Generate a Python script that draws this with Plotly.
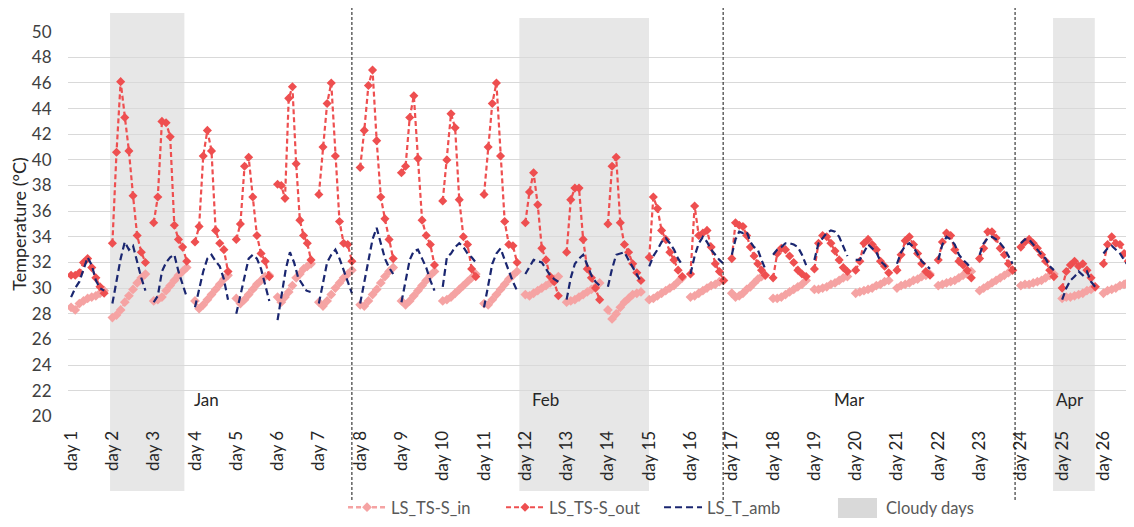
import plotly.graph_objects as go

days = [f"day {i}" for i in range(1, 27)]

t_in = [
    [28.5, 28.3, 28.8, 29.0, 29.2, 29.3, 29.4, 29.6, 29.8],
    [27.7, 27.9, 28.3, 28.9, 29.4, 29.9, 30.4, 30.8, 31.1],
    [29.0, 29.1, 29.3, 29.8, 30.2, 30.6, 31.0, 31.3, 31.6],
    [29.0, 28.4, 28.7, 29.1, 29.5, 29.9, 30.3, 30.7, 31.0],
    [29.2, 28.8, 29.1, 29.5, 29.9, 30.3, 30.6, 30.9, 31.0],
    [29.3, 28.9, 29.3, 29.7, 30.2, 30.8, 31.1, 31.5, 31.7, 31.9],
    [28.9, 28.6, 29.0, 29.5, 30.0, 30.4, 30.8, 31.1, 31.4],
    [28.7, 28.6, 29.0, 29.5, 29.9, 30.4, 30.9, 31.3, 31.6],
    [29.0, 28.7, 29.0, 29.4, 29.8, 30.2, 30.6, 31.0, 31.3],
    [29.0, 29.1, 29.3, 29.6, 29.9, 30.2, 30.5, 30.8, 31.1],
    [28.8, 28.7, 29.1, 29.5, 29.9, 30.3, 30.7, 31.0, 31.3],
    [29.5, 29.4, 29.6, 29.8, 30.0, 30.2, 30.4, 30.7, 30.9],
    [28.9, 29.0, 29.1, 29.3, 29.5, 29.7, 29.9, 30.1, 30.4],
    [28.3, 27.6, 28.0, 28.5, 28.9, 29.2, 29.5, 29.6, 29.7],
    [29.1, 29.2, 29.4, 29.6, 29.8, 30.0, 30.2, 30.5, 30.8],
    [29.3, 29.4, 29.6, 29.8, 30.0, 30.2, 30.3, 30.5, 30.6],
    [29.6, 29.3, 29.4, 29.6, 29.9, 30.1, 30.4, 30.7, 30.9, 31.0],
    [29.2, 29.2, 29.3, 29.5, 29.7, 29.9, 30.1, 30.3, 30.6],
    [29.9, 29.9, 30.0, 30.1, 30.3, 30.4, 30.6, 30.8, 30.9],
    [29.6, 29.7, 29.8, 29.9, 30.0, 30.2, 30.3, 30.5, 30.6],
    [30.0, 30.2, 30.3, 30.4, 30.6, 30.7, 30.9, 31.0, 31.1],
    [30.2, 30.3, 30.4, 30.5, 30.6, 30.8, 31.0, 31.1, 31.3],
    [29.8, 30.0, 30.2, 30.4, 30.6, 30.8, 31.0, 31.2, 31.4],
    [30.2, 30.3, 30.3, 30.4, 30.5, 30.6, 30.8, 31.0, 31.1],
    [29.2, 29.3, 29.3, 29.4, 29.5, 29.6, 29.8, 29.9, 30.1],
    [29.6, 29.8, 29.9, 30.0, 30.2, 30.3, 30.5, 30.6],
]

t_out = [
    [31.0, 31.0, 31.2, 32.0, 32.3, 31.6, 30.8, 30.1, 29.6],
    [33.5, 40.6, 46.1, 43.3, 40.7, 37.2, 34.1, 32.8, 32.0],
    [35.1, 37.1, 43.0, 42.9, 41.8, 34.9, 33.8, 33.2, 32.1],
    [33.6, 34.8, 40.3, 42.3, 40.7, 34.5, 33.5, 33.0, 31.3],
    [33.8, 35.0, 39.5, 40.2, 37.1, 34.1, 32.7, 32.1, 30.9],
    [38.1, 38.0, 37.0, 44.8, 45.7, 39.7, 35.3, 34.1, 33.5, 32.2],
    [37.3, 41.0, 44.4, 46.0, 40.3, 35.2, 33.5, 33.4, 32.1],
    [39.4, 42.3, 45.8, 47.0, 41.5, 37.1, 35.4, 33.8, 32.3],
    [39.0, 39.5, 43.3, 45.0, 40.1, 35.3, 34.1, 33.4, 31.8],
    [36.8, 40.0, 43.6, 42.5, 36.9, 34.0, 33.4, 31.5, 30.9],
    [37.3, 41.0, 44.4, 46.0, 40.3, 35.2, 33.4, 33.3, 32.0],
    [35.1, 37.5, 39.0, 36.5, 33.1, 32.2, 30.9, 30.5, 29.4],
    [32.8, 36.9, 37.8, 37.8, 33.8, 31.5, 30.8, 30.0, 29.1],
    [35.0, 39.5, 40.2, 35.1, 33.4, 32.8, 31.9, 31.2, 30.6],
    [32.4, 37.1, 36.2, 34.5, 33.8, 32.8, 32.2, 31.4, 30.9],
    [31.1, 36.4, 34.1, 34.3, 34.5, 33.2, 31.9, 31.3, 30.6],
    [32.3, 35.1, 34.9, 34.8, 34.1, 33.2, 32.5, 31.9, 31.4, 31.0],
    [30.8, 32.7, 33.1, 33.0, 32.5, 32.0, 31.4, 31.1, 30.9],
    [31.5, 33.5, 34.1, 34.0, 33.5, 32.9, 32.2, 31.6, 31.3],
    [31.4, 32.1, 33.5, 33.8, 33.4, 33.0, 32.1, 31.7, 31.2],
    [31.4, 32.6, 33.7, 34.0, 33.4, 32.7, 31.9, 31.3, 31.0],
    [32.2, 33.6, 34.3, 34.1, 33.0, 32.1, 31.8, 31.4, 30.8],
    [32.3, 33.1, 34.4, 34.4, 33.9, 33.1, 32.6, 31.9, 31.4],
    [33.2, 33.6, 33.8, 33.5, 33.1, 32.6, 32.1, 31.4, 30.9],
    [30.0, 31.3, 31.8, 32.1, 31.7, 31.9, 31.4, 30.8, 30.1],
    [31.9, 33.4, 34.0, 33.5, 33.4, 32.7, 32.1, 31.5],
]

t_amb = [
    [29.3, 30.0, 30.5, 31.5, 32.4, 31.8, 30.6, 30.0, 29.8],
    [28.8, 30.5, 32.3, 33.6, 33.0, 33.3, 32.0, 30.8, 29.8],
    [28.9, 29.4, 31.3, 32.0, 32.4, 32.6, 31.3, 30.3, 29.3],
    [28.5, 30.0, 31.3, 32.3, 32.6, 32.1, 31.7, 30.7, 29.1],
    [28.0, 29.5, 31.0, 32.3, 32.6, 32.3, 31.5, 30.3, 29.0],
    [27.5, 29.5, 31.5, 32.8, 32.0, 30.8, 30.3, 29.8, 29.7],
    [28.8, 30.5, 32.0, 32.6, 33.0, 32.3, 31.4, 30.5, 29.6],
    [28.8, 30.5, 32.4, 33.8, 34.7, 33.5, 32.3, 31.6, 31.1],
    [28.9, 30.5, 32.2, 32.9, 33.0, 32.3, 31.6, 30.6, 29.8],
    [30.1, 32.4, 32.7, 33.2, 33.5, 33.2, 32.7, 32.4, 32.0],
    [28.5, 30.3, 31.9, 32.7, 33.1, 32.2, 31.3, 30.5, 29.8],
    [31.1, 31.7, 32.2, 32.1, 32.0, 31.5, 31.0, 30.7, 30.5],
    [29.1, 30.8, 31.9, 32.3, 32.6, 31.8, 31.0, 30.5, 30.2],
    [30.1, 31.5, 32.6, 32.7, 32.8, 32.2, 31.6, 31.0, 30.5],
    [31.7, 32.5, 33.0, 33.6, 33.9, 33.5, 33.0, 32.3, 31.8],
    [31.1, 32.5, 33.5, 34.0, 33.6, 33.0, 32.6, 32.2, 31.9],
    [32.6, 33.8, 34.4, 34.3, 34.4, 33.6, 33.2, 33.0, 32.2, 31.5],
    [32.6, 33.0, 33.2, 33.5, 33.5, 33.4, 33.2, 32.6, 31.8],
    [32.2, 33.5, 33.9, 34.3, 34.5, 34.4, 34.0, 33.2, 32.5],
    [32.2, 32.2, 32.8, 33.4, 33.1, 32.8, 32.1, 31.8, 31.4],
    [31.9, 32.8, 33.3, 33.5, 33.2, 32.6, 32.1, 31.8, 31.5],
    [32.2, 33.4, 34.0, 33.8, 33.4, 32.6, 32.2, 31.9, 31.5],
    [32.6, 33.5, 33.9, 34.0, 33.8, 33.5, 33.1, 32.5, 31.9],
    [33.5, 33.8, 33.8, 33.4, 33.0, 32.6, 32.3, 31.7, 31.4],
    [29.1, 30.0, 30.6, 30.9, 31.3, 31.0, 31.3, 30.5, 30.1],
    [32.7, 33.1, 33.3, 33.0, 32.7, 32.2, 31.7, 31.3],
]

months = ["Jan", "Feb", "Mar", "Apr"]
month_pos = [3.29, 11.5, 18.84, 24.19]
cloudy_spans = [(0.944, 2.743), (10.855, 13.995), (23.78, 24.79)]
month_breaks = [6.80, 15.79, 22.86]


def build(series):
    xs, ys = [], []
    for d, vals in enumerate(series):
        n = len(vals)
        step = 0.1 if n <= 9 else 0.09
        for i, v in enumerate(vals):
            xs.append(d + i * step)
            ys.append(v)
        xs.append(None)
        ys.append(None)
    return xs, ys


FONT = "Lato, 'Open Sans', sans-serif"
C_IN = "#F5A3A3"
C_OUT = "#EE4F50"
C_AMB = "#1A2670"
C_CLOUD = "#E7E7E7"

fig = go.Figure()

x_in, y_in = build(t_in)
x_out, y_out = build(t_out)
x_amb, y_amb = build(t_amb)

fig.add_trace(go.Scatter(
    x=x_in, y=y_in, name="LS_TS-S_in", mode="lines+markers",
    line=dict(color=C_IN, width=2.4, dash="5px,3px"),
    marker=dict(symbol="diamond", size=7.5, color=C_IN),
    connectgaps=False,
))
fig.add_trace(go.Scatter(
    x=x_out, y=y_out, name="LS_TS-S_out", mode="lines+markers",
    line=dict(color=C_OUT, width=2.2, dash="5px,3px"),
    marker=dict(symbol="diamond", size=7, color=C_OUT),
    connectgaps=False,
))
fig.add_trace(go.Scatter(
    x=x_amb, y=y_amb, name="LS_T_amb", mode="lines",
    line=dict(color=C_AMB, width=2.2, dash="7px,4px"),
    connectgaps=False,
))

shapes = []
tops = [1.0466, 1.034, 1.034]
for (a, b), top in zip(cloudy_spans, tops):
    shapes.append(dict(type="rect", xref="x", yref="paper", x0=a, x1=b,
                       y0=-0.192, y1=top, fillcolor=C_CLOUD,
                       line=dict(width=0), layer="below"))
for xb in month_breaks:
    shapes.append(dict(type="line", xref="x", yref="paper", x0=xb, x1=xb,
                       y0=-0.215, y1=1.062,
                       line=dict(color="#111111", width=1, dash="3px,2px"),
                       layer="above"))
# legend box for cloudy days
shapes.append(dict(type="rect", xref="paper", yref="paper",
                   x0=0.7223, x1=0.7589, y0=-0.2617, y1=-0.2098,
                   fillcolor="#D9D9D9", line=dict(width=0)))

annotations = []
for m, p in zip(months, month_pos):
    annotations.append(dict(x=p, y=21.33, xref="x", yref="y", text=m,
                            showarrow=False,
                            font=dict(family=FONT, size=17, color="#262626")))
annotations.append(dict(x=0.7655, y=-0.2345, xref="paper", yref="paper",
                        text="Cloudy days", showarrow=False, xanchor="left",
                        yanchor="middle",
                        font=dict(family=FONT, size=16.5, color="#595959")))

# the page body adds an 8px margin on every side; keep the document within 1134x527
fig.update_layout(
    width=1126, height=511,
    margin=dict(l=60, r=0, t=23, b=102, autoexpand=False),
    paper_bgcolor="white", plot_bgcolor="white",
    font=dict(family=FONT, size=17, color="#404040"),
    shapes=shapes, annotations=annotations,
    showlegend=True,
    legend=dict(orientation="h", x=0.258, xanchor="left", y=-0.2345,
                yanchor="middle", font=dict(family=FONT, size=16.5, color="#595959"),
                itemwidth=38, entrywidth=105, entrywidthmode="pixels",
                tracegroupgap=0, bgcolor="rgba(0,0,0,0)"),
    xaxis=dict(range=[-0.075, 25.74], tickmode="array",
               tickvals=list(range(len(days))), ticktext=days,
               tickangle=-90, showgrid=False, zeroline=False, showline=False,
               automargin=False,
               ticks="outside", ticklen=6, tickcolor="rgba(0,0,0,0)",
               tickfont=dict(family=FONT, size=17, color="#262626")),
    yaxis=dict(range=[19.95, 50.05], tickmode="linear", tick0=20, dtick=2,
               showgrid=True, gridcolor="#D9D9D9", gridwidth=1,
               zeroline=False, showline=False, automargin=False,
               ticks="outside", ticklen=12, tickcolor="rgba(0,0,0,0)",
               tickfont=dict(family=FONT, size=17, color="#404040"),
               title=dict(text="Temperature (°C)", standoff=0,
                          font=dict(family=FONT, size=18, color="#262626"))),
)

fig.write_html("out.html")
